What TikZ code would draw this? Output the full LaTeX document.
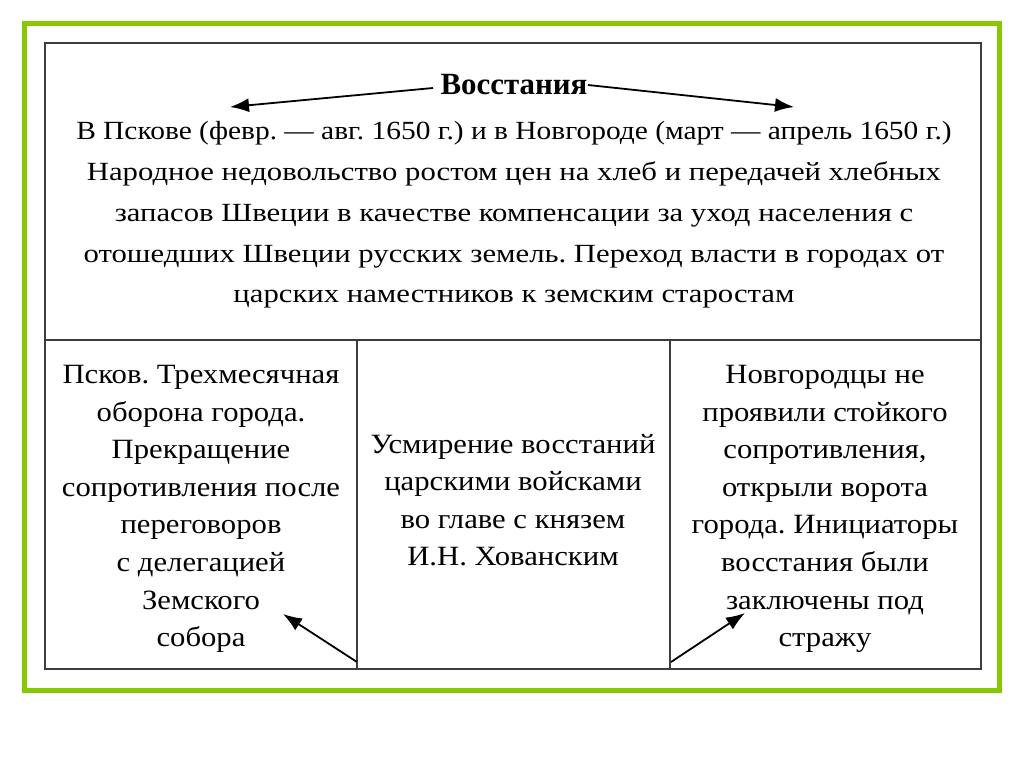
\documentclass[tikz,border=0pt]{standalone}
\usepackage{fontspec}
\setmainfont{Liberation Serif}
\newfontfamily\topfont[FakeStretch=1.172]{Liberation Serif}
\newfontfamily\topfontA[FakeStretch=1.123]{Liberation Serif}
\newfontfamily\botfont[FakeStretch=1.10]{Liberation Serif}
\usetikzlibrary{arrows.meta}
\definecolor{frame}{RGB}{136,200,0}
\definecolor{rule}{RGB}{60,60,60}
\frenchspacing
\begin{document}
\begin{tikzpicture}[x=1bp,y=-1bp,
  cellline/.style={draw=rule,line width=2bp},
  txt/.style={align=center,inner sep=0pt,font=\topfont\fontsize{26.3}{41}\selectfont},
  btxt/.style={align=center,inner sep=0pt,font=\botfont\fontsize{28}{37.7}\selectfont},
  arr/.style={line width=1.8bp,-{Latex[length=19bp,width=14bp]}}]
\useasboundingbox (0,0) rectangle (1024,767);
\fill[white] (0,0) rectangle (1024,767);
\draw[frame,line width=5bp] (24.5,23.5) rectangle (999.5,690.5);
% table
\draw[cellline] (45,43) rectangle (981,669);
\draw[cellline] (45,340) -- (981,340);
\draw[cellline] (357,340) -- (357,669);
\draw[cellline] (670,340) -- (670,669);
% title
\node[inner sep=0pt,font=\fontsize{31}{36}\selectfont\bfseries] (title) at (514,85) {Восстания};
\coordinate (tl) at (433,88);
\coordinate (tr) at (588,85);
\coordinate (al) at (230,107);
\coordinate (ar) at (794,107);
\draw[arr] (tl) -- (al);
\draw[arr] (tr) -- (ar);
% top text
\node[txt] (top) at (514,215) {{\topfontA В Пскове (февр. — авг. 1650 г.) и в Новгороде (март — апрель 1650 г.)}\\
Народное недовольство ростом цен на хлеб и передачей хлебных\\
запасов Швеции в качестве компенсации за уход населения с\\
отошедших Швеции русских земель. Переход власти в городах от\\
царских наместников к земским старостам};
% bottom cells
\node[btxt] (left) at (201,509) {Псков. Трехмесячная\\оборона города.\\Прекращение\\сопротивления после\\переговоров\\с делегацией\\Земского\\собора};
\node[btxt] (mid) at (513,500) {Усмирение восстаний\\царскими войсками\\во главе с князем\\И.Н. Хованским};
\node[btxt] (right) at (825,509) {Новгородцы не\\проявили стойкого\\сопротивления,\\открыли ворота\\города. Инициаторы\\восстания были\\заключены под\\стражу};
\coordinate (bl) at (357,662);
\coordinate (blt) at (283,614);
\coordinate (br) at (671,662);
\coordinate (brt) at (745,613);
\draw[arr] (bl) -- (blt);
\draw[arr] (br) -- (brt);
\end{tikzpicture}
\end{document}
